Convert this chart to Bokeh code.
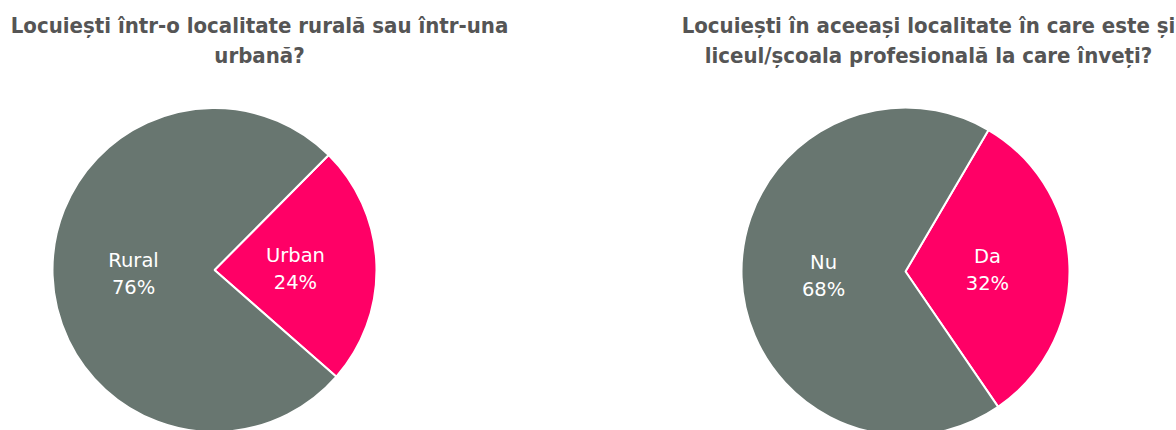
import math
from bokeh.plotting import figure
from bokeh.models import Range1d, ColumnDataSource
from bokeh.core.properties import value
from bokeh.embed import file_html
from bokeh.resources import INLINE

# ---- data ----
left_title = ["Locuiești într-o localitate rurală sau într-una", "urbană?"]
left_labels = ["Urban", "Rural"]
left_values = [24, 76]

right_title = ["Locuiești în aceeași localitate în care este și",
               "liceul/școala profesională la care înveți?"]
right_labels = ["Da", "Nu"]
right_values = [32, 68]

slice_colors = ["#FF0066", "#687670"]

# ---- figure ----
W, H = 1176, 430
p = figure(width=W, height=H, x_range=Range1d(0, W), y_range=Range1d(0, H),
           x_axis_type=None, y_axis_type=None, toolbar_location=None,
           output_backend="svg", min_border=0)
p.outline_line_color = None
p.background_fill_color = "white"
p.border_fill_color = "white"

TITLE_FONT = "DejaVu Sans Condensed"
LABEL_FONT = "DejaVu Sans"


def pie(cx, cy, r, labels, values, title_lines, tx):
    total = float(sum(values))
    mid0 = math.radians(2)
    a = mid0 - values[0] / total * math.pi
    starts, ends, lx, ly = [], [], [], []
    for v in values:
        e = a + v / total * 2 * math.pi
        starts.append(a)
        ends.append(e)
        m = (a + e) / 2
        lx.append(cx + 0.5 * r * math.cos(m))
        ly.append(cy + 0.5 * r * math.sin(m))
        a = e
    src = ColumnDataSource(dict(start=starts, end=ends, color=slice_colors[:len(values)],
                                lx=lx, ly=ly, name=labels,
                                pct=[f"{v}%" for v in values]))
    p.wedge(x=cx, y=cy, radius=r, start_angle="start", end_angle="end",
            fill_color="color", line_color="white", line_width=2, source=src)
    for field, off in (("name", -12), ("pct", 15)):
        p.text(x="lx", y="ly", text=field, y_offset=off, source=src,
               text_align="center", text_baseline="alphabetic",
               text_font=value(LABEL_FONT), text_font_size=value("19.5px"),
               text_color="white")
    tsrc = ColumnDataSource(dict(x=[tx] * len(title_lines),
                                 y=[405 - 30.4 * i for i in range(len(title_lines))],
                                 t=title_lines))
    p.text(x="x", y="y", text="t", source=tsrc, text_align="center",
           text_baseline="alphabetic", text_font=value(TITLE_FONT),
           text_font_size=value("22px"), text_font_style="bold",
           text_color="#555555")


pie(214, 160.5, 162, left_labels, left_values, left_title, 259)
pie(905, 159, 164, right_labels, right_values, right_title, 928)

open("out.html", "w").write(file_html(p, INLINE, title="Pie charts"))
